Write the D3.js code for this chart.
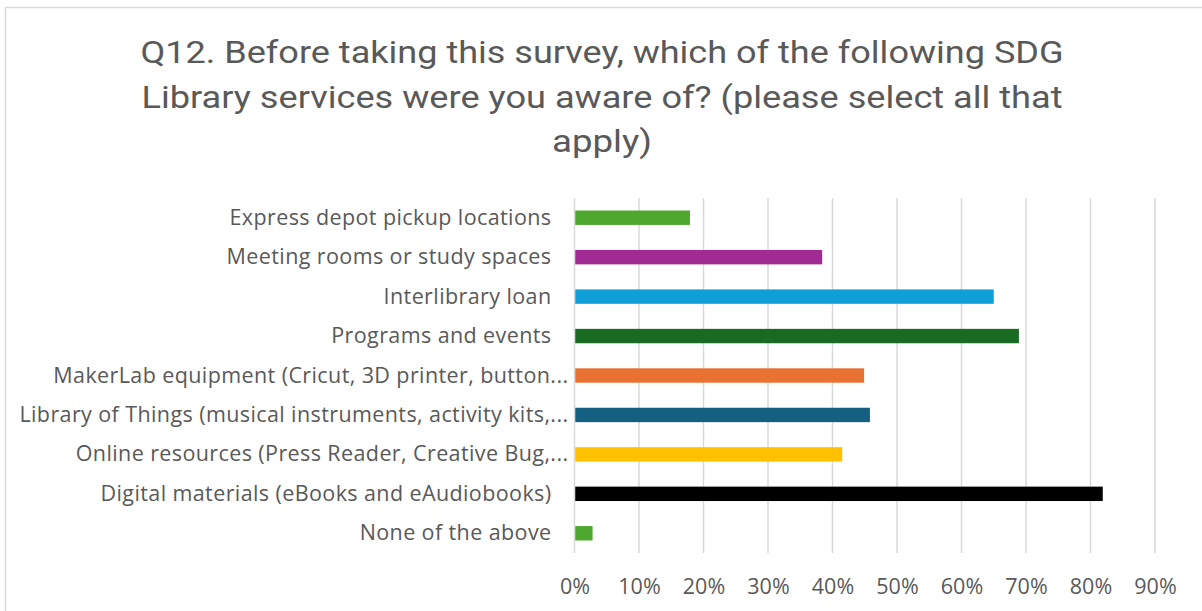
<!DOCTYPE html>
<html>
<head>
<meta charset="utf-8">
<script src="https://cdn.jsdelivr.net/npm/d3@7"></script>
<style>
  html, body { margin: 0; padding: 0; background: #ffffff; }
  svg { display: block; }
</style>
</head>
<body>
<svg id="chart" width="1202" height="611"></svg>
<script>
// Survey responses, top to bottom as listed in the chart
const categories = [
  "Express depot pickup locations",
  "Meeting rooms or study spaces",
  "Interlibrary loan",
  "Programs and events",
  "MakerLab equipment (Cricut, 3D printer, button...",
  "Library of Things (musical instruments, activity kits,...",
  "Online resources (Press Reader, Creative Bug,...",
  "Digital materials (eBooks and eAudiobooks)",
  "None of the above"
];
// Share of respondents aware of each service (fraction)
const values = [0.179, 0.384, 0.650, 0.689, 0.449, 0.458, 0.415, 0.819, 0.028];
const tickValues = [0, 0.1, 0.2, 0.3, 0.4, 0.5, 0.6, 0.7, 0.8, 0.9];
const titleLines = [
  "Q12. Before taking this survey, which of the following SDG",
  "Library services were you aware of? (please select all that",
  "apply)"
];
const barColors = ["#4EA72E", "#A02B93", "#0F9ED5", "#196B24", "#E97132",
                   "#156082", "#FFC000", "#000000", "#4EA72E"];

const svg = d3.select("#chart");
const textColor = "#595959";
const labelFont = "'Open Sans', 'Noto Sans', sans-serif";

// Chart frame
svg.append("rect")
  .attr("x", 5.5).attr("y", 7.5)
  .attr("width", 1220).attr("height", 640)
  .attr("fill", "#ffffff")
  .attr("stroke", "#d9d9d9").attr("stroke-width", 1.5);

// Title, three centred lines in a condensed face
const titleY = [63, 108, 152];
const titleWidths = [923, 921, 100];
svg.append("g").selectAll("text")
  .data(titleLines)
  .join("text")
  .attr("x", 602)
  .attr("y", (d, i) => titleY[i])
  .attr("text-anchor", "middle")
  .attr("fill", textColor)
  .style("font-family", "'Roboto', 'Liberation Sans', sans-serif")
  .style("font-size", "31px")
  .attr("textLength", (d, i) => titleWidths[i])
  .attr("lengthAdjust", "spacingAndGlyphs")
  .text(d => d);

// Plot area
const plot = { left: 574.5, right: 1155, top: 198, bottom: 553 };

const x = d3.scaleLinear().domain([0, 0.9]).range([plot.left, plot.right]);
const y = d3.scaleBand().domain(categories).range([plot.top, plot.bottom])
  .paddingInner(0.635).paddingOuter(0.3175);

// Vertical gridlines
svg.append("g").selectAll("line")
  .data(tickValues)
  .join("line")
  .attr("x1", d => x(d)).attr("x2", d => x(d))
  .attr("y1", plot.top).attr("y2", plot.bottom)
  .attr("stroke", "#d9d9d9").attr("stroke-width", 1.5);

// Bars
svg.append("g").selectAll("rect")
  .data(categories)
  .join("rect")
  .attr("x", x(0) + 0.75)
  .attr("y", d => y(d))
  .attr("width", (d, i) => x(values[i]) - x(0) - 0.75)
  .attr("height", y.bandwidth())
  .attr("fill", (d, i) => barColors[i]);

// Category labels (truncated names end with an ellipsis that reaches the axis)
svg.append("g").selectAll("text")
  .data(categories)
  .join("text")
  .attr("x", d => d.endsWith("...") ? plot.left - 6 : plot.left - 23)
  .attr("y", d => y(d) + y.bandwidth() / 2 + 7)
  .attr("text-anchor", "end")
  .attr("fill", textColor)
  .style("font-family", labelFont)
  .style("font-size", "21.5px")
  .style("letter-spacing", "0.4px")
  .text(d => d);

// X axis tick labels
const xAxis = d3.axisBottom(x)
  .tickValues(tickValues)
  .tickFormat(d3.format(".0%"))
  .tickSize(0)
  .tickPadding(0);
const axisG = svg.append("g")
  .attr("transform", `translate(0,${plot.bottom + 26})`)
  .call(xAxis);
axisG.select(".domain").remove();
axisG.selectAll("text")
  .attr("fill", textColor)
  .style("font-family", labelFont)
  .style("font-size", "21.5px");
</script>
</body>
</html>
